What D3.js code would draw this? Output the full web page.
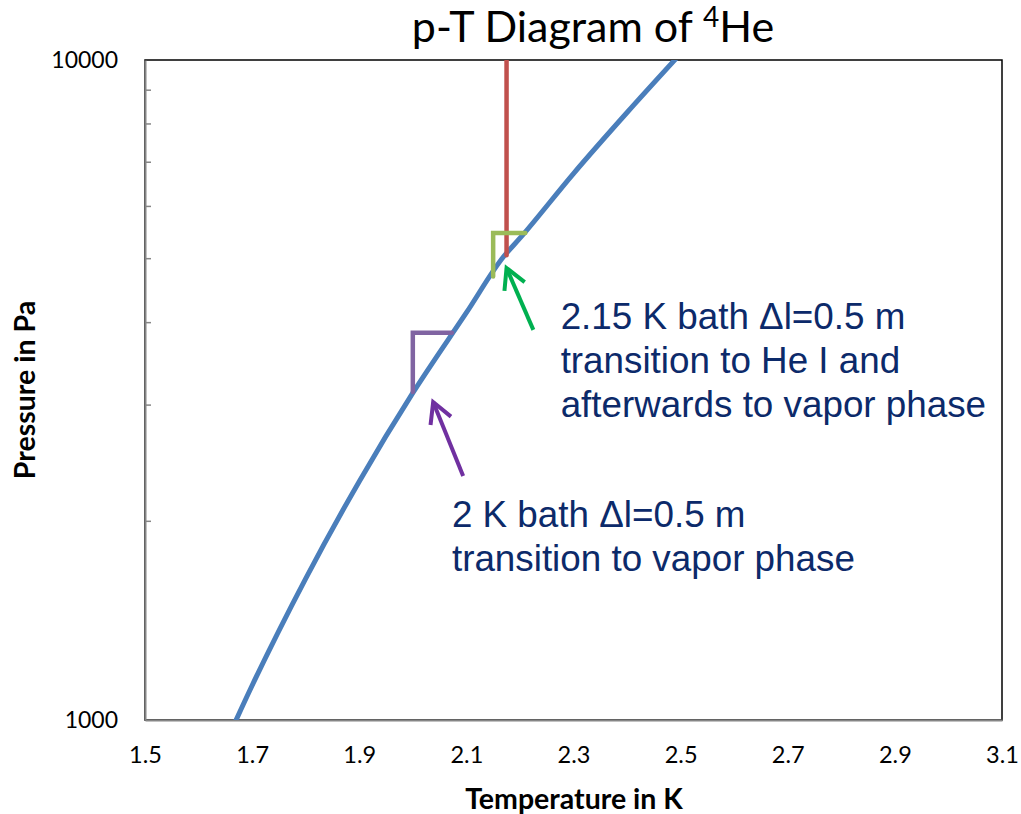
<!DOCTYPE html>
<html>
<head>
<meta charset="utf-8">
<script src="https://cdn.jsdelivr.net/npm/d3@7"></script>
<style>
  body { margin: 0; background: #fff; }
  svg { display: block; }
</style>
</head>
<body>
<div id="chart"></div>
<script>
// saturated vapour pressure of 4He
const tempK = [1.6, 1.7, 1.8, 1.9, 2.0, 2.1, 2.17, 2.2, 2.3, 2.4, 2.5];
const pressurePa = [746, 1128, 1638, 2299, 3130, 4141, 5042, 5370, 6730, 8327, 10228];

const xTicks = [1.5, 1.7, 1.9, 2.1, 2.3, 2.5, 2.7, 2.9, 3.1];
const yTicks = [1000, 10000];
const yMinorTicks = [2000, 3000, 4000, 5000, 6000, 7000, 8000, 9000];

// annotation paths (K, Pa)
const redT = [2.175, 2.175];
const redP = [5060, 10000];
const greenT = [2.15, 2.15, 2.21];
const greenP = [4700, 5470, 5470];
const purpleT = [2.0, 2.0, 2.073];
const purpleP = [3140, 3860, 3860];
const greenArrowT = [2.225, 2.175];
const greenArrowP = [3900, 4840];
const purpleArrowT = [2.094, 2.038];
const purpleArrowP = [2343, 3032];

const greenLines = ["2.15 K bath \u0394l=0.5 m", "transition to He I and", "afterwards to vapor phase"];
const purpleLines = ["2 K bath \u0394l=0.5 m", "transition to vapor phase"];

const width = 1021, height = 814;
const plotLeft = 145, plotRight = 1002, plotTop = 60, plotBottom = 720;

const svg = d3.select("#chart").append("svg")
  .attr("width", width)
  .attr("height", height);

const x = d3.scaleLinear().domain([1.5, 3.1]).range([plotLeft, plotRight]);
const y = d3.scaleLog().domain([1000, 10000]).range([plotBottom, plotTop]);

svg.append("defs").append("clipPath")
  .attr("id", "plot-clip")
  .append("rect")
  .attr("x", plotLeft).attr("y", plotTop)
  .attr("width", plotRight - plotLeft).attr("height", plotBottom - plotTop);

// plot area border
svg.append("rect")
  .attr("x", plotLeft).attr("y", plotTop)
  .attr("width", plotRight - plotLeft).attr("height", plotBottom - plotTop)
  .attr("fill", "none")
  .attr("stroke", "#000")
  .attr("stroke-width", 1.5);

// axes
const gx = svg.append("g")
  .attr("transform", `translate(0, ${plotBottom})`)
  .call(d3.axisBottom(x).tickValues(xTicks).tickSize(0).tickPadding(26).tickFormat(d3.format(".1f")));
gx.select(".domain").attr("stroke", "#868686").attr("stroke-width", 2);
gx.selectAll("text")
  .attr("font-family", "Lato, sans-serif")
  .attr("font-size", "23.5px")
  .attr("fill", "#000");

const gy = svg.append("g")
  .attr("transform", `translate(${plotLeft}, 0)`)
  .call(d3.axisLeft(y).tickValues(yTicks).tickSize(0).tickPadding(27).tickFormat(d3.format("d")));
gy.select(".domain").attr("stroke", "#868686").attr("stroke-width", 2);
gy.selectAll("text")
  .attr("font-family", "Lato, sans-serif")
  .attr("font-size", "23px")
  .attr("fill", "#000");

svg.append("g")
  .selectAll("line")
  .data(yMinorTicks)
  .join("line")
  .attr("x1", plotLeft).attr("x2", plotLeft + 6)
  .attr("y1", d => y(d)).attr("y2", d => y(d))
  .attr("stroke", "#868686")
  .attr("stroke-width", 1.5);

const plot = svg.append("g").attr("clip-path", "url(#plot-clip)");

const curve = d3.line()
  .x(d => x(d[0]))
  .y(d => y(d[1]))
  .curve(d3.curveMonotoneX);

plot.append("path")
  .datum(tempK.map((t, i) => [t, pressurePa[i]]))
  .attr("d", curve)
  .attr("fill", "none")
  .attr("stroke", "#4A7EBB")
  .attr("stroke-width", 5);

const seg = d3.line().x(d => x(d[0])).y(d => y(d[1]));

plot.append("path")
  .datum(redT.map((t, i) => [t, redP[i]]))
  .attr("d", seg)
  .attr("fill", "none")
  .attr("stroke", "#C0504D")
  .attr("stroke-width", 4.5)
  .attr("stroke-linecap", "round");

plot.append("path")
  .datum(greenT.map((t, i) => [t, greenP[i]]))
  .attr("d", seg)
  .attr("fill", "none")
  .attr("stroke", "#9BBB59")
  .attr("stroke-width", 4.5)
  .attr("stroke-linecap", "round");

plot.append("path")
  .datum(purpleT.map((t, i) => [t, purpleP[i]]))
  .attr("d", seg)
  .attr("fill", "none")
  .attr("stroke", "#8064A2")
  .attr("stroke-width", 4.5)
  .attr("stroke-linecap", "round");

// open arrows
function drawArrow(ts, ps, color) {
  const x0 = x(ts[0]), y0 = y(ps[0]), x1 = x(ts[1]), y1 = y(ps[1]);
  const ang = Math.atan2(y0 - y1, x0 - x1);
  const len = 23, spread = 0.5;
  const a1 = [x1 + len * Math.cos(ang - spread), y1 + len * Math.sin(ang - spread)];
  const a2 = [x1 + len * Math.cos(ang + spread), y1 + len * Math.sin(ang + spread)];
  const g = svg.append("g")
    .attr("fill", "none")
    .attr("stroke", color)
    .attr("stroke-width", 4)
    .attr("stroke-linejoin", "miter");
  g.append("line").attr("x1", x0).attr("y1", y0).attr("x2", x1).attr("y2", y1);
  g.append("path").attr("d", `M${a1[0]},${a1[1]}L${x1},${y1}L${a2[0]},${a2[1]}`);
}
drawArrow(greenArrowT, greenArrowP, "#00B050");
drawArrow(purpleArrowT, purpleArrowP, "#7030A0");

// annotation texts
function drawLines(lines, t, p) {
  svg.append("text")
    .attr("font-family", "'Liberation Sans', Arial, sans-serif")
    .attr("font-size", "36.8px")
    .attr("fill", "#0C2A6A")
    .selectAll("tspan")
    .data(lines)
    .join("tspan")
    .attr("x", x(t))
    .attr("y", (d, i) => y(p) + i * 44)
    .text(d => d);
}
drawLines(greenLines, 2.276, 3913);
drawLines(purpleLines, 2.073, 1960);

// title
const title = svg.append("text")
  .attr("x", 593)
  .attr("y", 42)
  .attr("text-anchor", "middle")
  .attr("font-family", "Lato, sans-serif")
  .attr("font-size", "43px")
  .attr("fill", "#000");
title.append("tspan").text("p-T Diagram of ");
title.append("tspan").attr("font-size", "28px").attr("dy", -15).text("4");
title.append("tspan").attr("dy", 15).text("He");

// axis titles
svg.append("text")
  .attr("x", 574)
  .attr("y", 809)
  .attr("text-anchor", "middle")
  .attr("font-family", "Lato, sans-serif")
  .attr("font-weight", "bold")
  .attr("font-size", "28.5px")
  .text("Temperature in K");

svg.append("text")
  .attr("transform", "translate(35, 390) rotate(-90)")
  .attr("text-anchor", "middle")
  .attr("font-family", "Lato, sans-serif")
  .attr("font-weight", "bold")
  .attr("font-size", "28.5px")
  .text("Pressure in Pa");
</script>
</body>
</html>
